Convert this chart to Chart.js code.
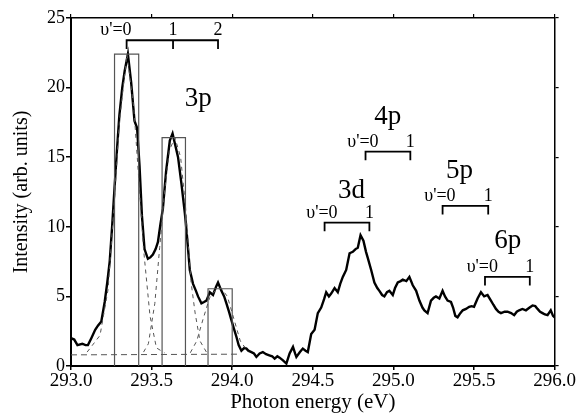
<!DOCTYPE html>
<html>
<head>
<meta charset="utf-8">
<script src="https://cdn.jsdelivr.net/npm/chart.js@4.4.1/dist/chart.umd.min.js"></script>
<style>
  html, body { margin: 0; padding: 0; background: #fff; }
  #myChart { display: block; }
</style>
</head>
<body>
<canvas id="myChart" width="576" height="413"></canvas>
<script>
/** 实测谱线 (photon energy / intensity) */
var energy = [
  293.00, 293.02, 293.04, 293.07, 293.09, 293.105, 293.126, 293.15, 293.167, 293.188,
  293.209, 293.225, 293.24, 293.255, 293.27, 293.285, 293.30, 293.318, 293.333, 293.353,
  293.373, 293.394, 293.41, 293.425, 293.44, 293.456, 293.477, 293.492, 293.508, 293.525,
  293.539, 293.555, 293.57, 293.59, 293.613, 293.63, 293.644, 293.664, 293.685, 293.706,
  293.716, 293.737, 293.757, 293.775, 293.788, 293.809, 293.825, 293.84, 293.861, 293.881,
  293.90, 293.912, 293.933, 293.95, 293.964, 293.98, 293.995, 294.01, 294.026, 294.04,
  294.057, 294.075, 294.088, 294.10, 294.119, 294.135, 294.15, 294.17, 294.19, 294.21,
  294.23, 294.248, 294.263, 294.28, 294.294, 294.315, 294.336, 294.356, 294.377, 294.39,
  294.398, 294.42, 294.438, 294.455, 294.469, 294.49, 294.511, 294.531, 294.552, 294.57,
  294.583, 294.60, 294.614, 294.635, 294.655, 294.67, 294.686, 294.707, 294.728, 294.748,
  294.765, 294.779, 294.796, 294.814, 294.83, 294.84, 294.862, 294.882, 294.90, 294.913,
  294.93, 294.944, 294.96, 294.975, 294.996, 295.01, 295.027, 295.045, 295.058, 295.08,
  295.099, 295.12, 295.141, 295.161, 295.18, 295.192, 295.212, 295.233, 295.25, 295.264,
  295.285, 295.305, 295.32, 295.336, 295.357, 295.37, 295.384, 295.398, 295.415, 295.43,
  295.45, 295.47, 295.485, 295.50, 295.522, 295.543, 295.563, 295.584, 295.605, 295.62,
  295.636, 295.652, 295.667, 295.69, 295.708, 295.73, 295.749, 295.765, 295.78, 295.80,
  295.822, 295.845, 295.863, 295.88, 295.894, 295.91, 295.925, 295.94, 295.956, 295.976,
  295.99, 296.00
]
var intensity = [
  2.0, 1.9, 1.5, 1.6, 1.5, 1.5, 2.0, 2.6, 2.9, 3.2,
  4.6, 6.0, 7.5, 10.0, 12.8, 15.5, 18.0, 20.0, 21.2, 22.4,
  20.4, 17.6, 17.1, 14.4, 10.8, 8.4, 7.7, 7.8, 8.0, 8.4,
  8.9, 10.2, 11.3, 14.0, 16.2, 16.7, 16.0, 15.0, 13.1, 11.0,
  9.8, 6.9, 5.9, 5.4, 5.0, 4.5, 4.6, 4.7, 5.3, 5.1,
  5.7, 6.0, 5.4, 5.0, 4.5, 3.9, 3.3, 2.7, 2.1, 1.5,
  1.1, 1.3, 1.25, 1.1, 1.0, 0.9, 0.65, 0.9, 1.0, 0.85,
  0.77, 0.7, 0.53, 0.7, 0.6, 0.4, 0.17, 0.9, 1.37, 0.9,
  0.65, 1.0, 1.25, 1.1, 1.0, 2.3, 2.6, 3.8, 4.2, 4.8,
  5.3, 5.0, 5.2, 5.6, 5.3, 5.9, 6.4, 6.9, 8.1, 8.2,
  8.4, 8.5, 9.4, 9.0, 8.2, 7.8, 6.9, 6.0, 5.6, 5.4,
  5.1, 5.0, 5.3, 5.4, 5.1, 5.6, 6.0, 6.1, 6.2, 6.1,
  6.4, 5.8, 5.4, 4.7, 4.2, 4.0, 3.8, 4.7, 4.9, 5.0,
  4.85, 5.4, 5.0, 4.7, 4.6, 4.2, 3.6, 3.5, 3.8, 4.0,
  4.1, 4.25, 4.3, 4.25, 4.85, 5.3, 5.0, 5.1, 4.7, 4.4,
  4.1, 3.9, 3.8, 3.9, 3.9, 3.8, 3.65, 3.9, 4.0, 4.1,
  4.0, 4.2, 4.35, 4.3, 4.1, 3.9, 3.8, 3.7, 3.65, 4.0,
  3.6, 3.5
]

/** 拟合分量 (虚线) */
var baseX = [293.0, 294.05]
var baseY = [0.8, 0.85]
var fit0X = [293.10, 293.18, 293.23, 293.27, 293.30, 293.347, 293.39, 293.42, 293.45, 293.49, 293.53, 293.58]
var fit0Y = [1.0, 2.2, 5.5, 12.0, 17.5, 22.4, 18.5, 13.5, 8.4, 3.6, 1.3, 0.95]
var fit1X = [293.45, 293.48, 293.52, 293.55, 293.58, 293.61, 293.645, 293.68, 293.71, 293.745, 293.77, 293.80, 293.84]
var fit1Y = [1.0, 1.6, 4.5, 8.5, 12.5, 15.5, 16.4, 15.0, 11.5, 6.0, 3.8, 1.8, 1.0]
var fit2X = [293.74, 293.78, 293.82, 293.86, 293.90, 293.93, 293.97, 294.01, 294.05, 294.10]
var fit2Y = [0.95, 1.8, 3.4, 4.9, 5.5, 5.6, 5.0, 3.4, 1.8, 1.0]

/** 矩形框 */
var boxLeft = [293.27, 293.565, 293.85]
var boxRight = [293.42, 293.71, 294.0]
var boxHeight = [22.4, 16.4, 5.55]

/** 振动能级标尺 */
var stateNames = ['3p', '3d', '4p', '5p', '6p']
var stateLabelX = [293.79, 294.74, 294.965, 295.41, 295.71]
var stateLabelY = [19.2, 12.6, 17.9, 14.0, 9.0]
var bracketY = [23.4, 10.3, 15.4, 11.5, 6.4]
var bracketV0 = [293.345, 294.573, 294.827, 295.305, 295.568]
var bracketV1 = [293.633, 294.851, 295.105, 295.588, 295.846]
var bracketV2 = [293.912, null, null, null, null]
var bracketTick = 0.62

var xTicks = [293.0, 293.5, 294.0, 294.5, 295.0, 295.5, 296.0]
var yTicks = [0, 5, 10, 15, 20, 25]

var FONT = '"Liberation Serif", "DejaVu Serif", serif'

var page = {
  init: function () {
    page.funcs.createChart()
  },
  funcs: {
    toPoints: function (xs, ys) {
      var pts = []
      xs.forEach(function (x, i) { pts.push({x: x, y: ys[i]}) })
      return pts
    },
    boxPoints: function (i) {
      return [
        {x: boxLeft[i], y: 0}, {x: boxLeft[i], y: boxHeight[i]},
        {x: boxRight[i], y: boxHeight[i]}, {x: boxRight[i], y: 0}
      ]
    },
    bracketPoints: function (i) {
      var y = bracketY[i]
      var pts = [{x: bracketV0[i], y: y - bracketTick}, {x: bracketV0[i], y: y},
                 {x: bracketV1[i], y: y}, {x: bracketV1[i], y: y - bracketTick}]
      if (bracketV2[i] !== null) {
        pts.push({x: bracketV1[i], y: y})
        pts.push({x: bracketV2[i], y: y})
        pts.push({x: bracketV2[i], y: y - bracketTick})
      }
      return pts
    },
    lineSet: function (data, color, width, dash) {
      return {
        data: data, borderColor: color, borderWidth: width, borderDash: dash || [],
        pointRadius: 0, fill: false, tension: 0, showLine: true
      }
    },
    createChart: function () {
      var f = page.funcs
      var datasets = []
      for (var b = 0; b < boxLeft.length; b++) datasets.push(f.lineSet(f.boxPoints(b), '#555', 1.2))
      datasets.push(f.lineSet(f.toPoints(baseX, baseY), '#555', 1, [6, 4]))
      datasets.push(f.lineSet(f.toPoints(fit0X, fit0Y), '#555', 1, [4, 4]))
      datasets.push(f.lineSet(f.toPoints(fit1X, fit1Y), '#555', 1, [4, 4]))
      datasets.push(f.lineSet(f.toPoints(fit2X, fit2Y), '#555', 1, [4, 4]))
      for (var k = 0; k < stateNames.length; k++) datasets.push(f.lineSet(f.bracketPoints(k), '#000', 1.8))
      datasets.push(f.lineSet(f.toPoints(energy, intensity), '#000', 2.4))

      // υ'=0 文字右端相对刻度的像素偏移
      var zeroShift = [5, 13, 13, 13, 13]
      var labelPlugin = {
        id: 'stateLabels',
        afterDatasetsDraw: function (chart) {
          var ctx = chart.ctx, xs = chart.scales.x, ys = chart.scales.y
          ctx.save()
          ctx.fillStyle = '#000'
          ctx.textAlign = 'center'
          ctx.textBaseline = 'middle'
          ctx.font = '27px ' + FONT
          stateNames.forEach(function (s, i) {
            ctx.fillText(s, xs.getPixelForValue(stateLabelX[i]), ys.getPixelForValue(stateLabelY[i]))
          })
          ctx.font = '18px ' + FONT
          ctx.textBaseline = 'alphabetic'
          stateNames.forEach(function (s, i) {
            var yy = ys.getPixelForValue(bracketY[i]) - 5
            ctx.textAlign = 'right'
            ctx.fillText("\u03c5'=0", xs.getPixelForValue(bracketV0[i]) + zeroShift[i], yy)
            ctx.textAlign = 'center'
            ctx.fillText('1', xs.getPixelForValue(bracketV1[i]), yy)
            if (bracketV2[i] !== null) ctx.fillText('2', xs.getPixelForValue(bracketV2[i]), yy)
          })
          ctx.restore()
        }
      }

      var ctx = document.getElementById('myChart').getContext('2d')
      new Chart(ctx, {
        type: 'line',
        data: {datasets: datasets},
        plugins: [labelPlugin],
        options: {
          responsive: false,
          devicePixelRatio: 1,
          animation: false,
          layout: {padding: 0},
          plugins: {legend: {display: false}, tooltip: {enabled: false}},
          scales: {
            x: {
              type: 'linear', position: 'bottom', min: 293, max: 296,
              afterFit: function (s) { s.height = 47 },
              afterBuildTicks: function (s) { s.ticks = xTicks.map(function (v) { return {value: v} }) },
              border: {display: true, color: '#000', width: 2},
              grid: {display: true, drawOnChartArea: false, drawTicks: true, tickLength: 4, color: '#000', lineWidth: 1.5},
              ticks: {
                color: '#000', padding: 0, maxRotation: 0, autoSkip: false,
                font: {family: FONT, size: 19},
                callback: function (v) { return Number(v).toFixed(1) }
              },
              title: {display: true, text: 'Photon energy (eV)', color: '#000', padding: 0, font: {family: FONT, size: 21, lineHeight: 1}}
            },
            x2: {
              type: 'linear', position: 'top', min: 293, max: 296,
              afterFit: function (s) { s.height = 18 },
              afterBuildTicks: function (s) { s.ticks = xTicks.map(function (v) { return {value: v} }) },
              border: {display: true, color: '#000', width: 1.5},
              grid: {display: true, drawOnChartArea: false, drawTicks: true, tickLength: 4, color: '#000', lineWidth: 1.2},
              ticks: {display: false}
            },
            y: {
              type: 'linear', position: 'left', min: 0, max: 25,
              afterFit: function (s) { s.width = 71 },
              afterBuildTicks: function (s) { s.ticks = yTicks.map(function (v) { return {value: v} }) },
              border: {display: true, color: '#000', width: 2},
              grid: {display: true, drawOnChartArea: false, drawTicks: true, tickLength: 5, color: '#000', lineWidth: 1.5},
              ticks: {color: '#000', padding: 1, font: {family: FONT, size: 18}},
              title: {display: true, text: 'Intensity (arb. units)', color: '#000', padding: {top: 11, bottom: 0}, font: {family: FONT, size: 20, lineHeight: 1.1}}
            },
            y2: {
              type: 'linear', position: 'right', min: 0, max: 25,
              afterFit: function (s) { s.width = 20 },
              afterBuildTicks: function (s) { s.ticks = yTicks.map(function (v) { return {value: v} }) },
              border: {display: true, color: '#000', width: 1.5},
              grid: {display: true, drawOnChartArea: false, drawTicks: true, tickLength: 4, color: '#000', lineWidth: 1.2},
              ticks: {display: false}
            }
          }
        }
      })
    }
  }
}

page.init()
</script>
</body>
</html>
